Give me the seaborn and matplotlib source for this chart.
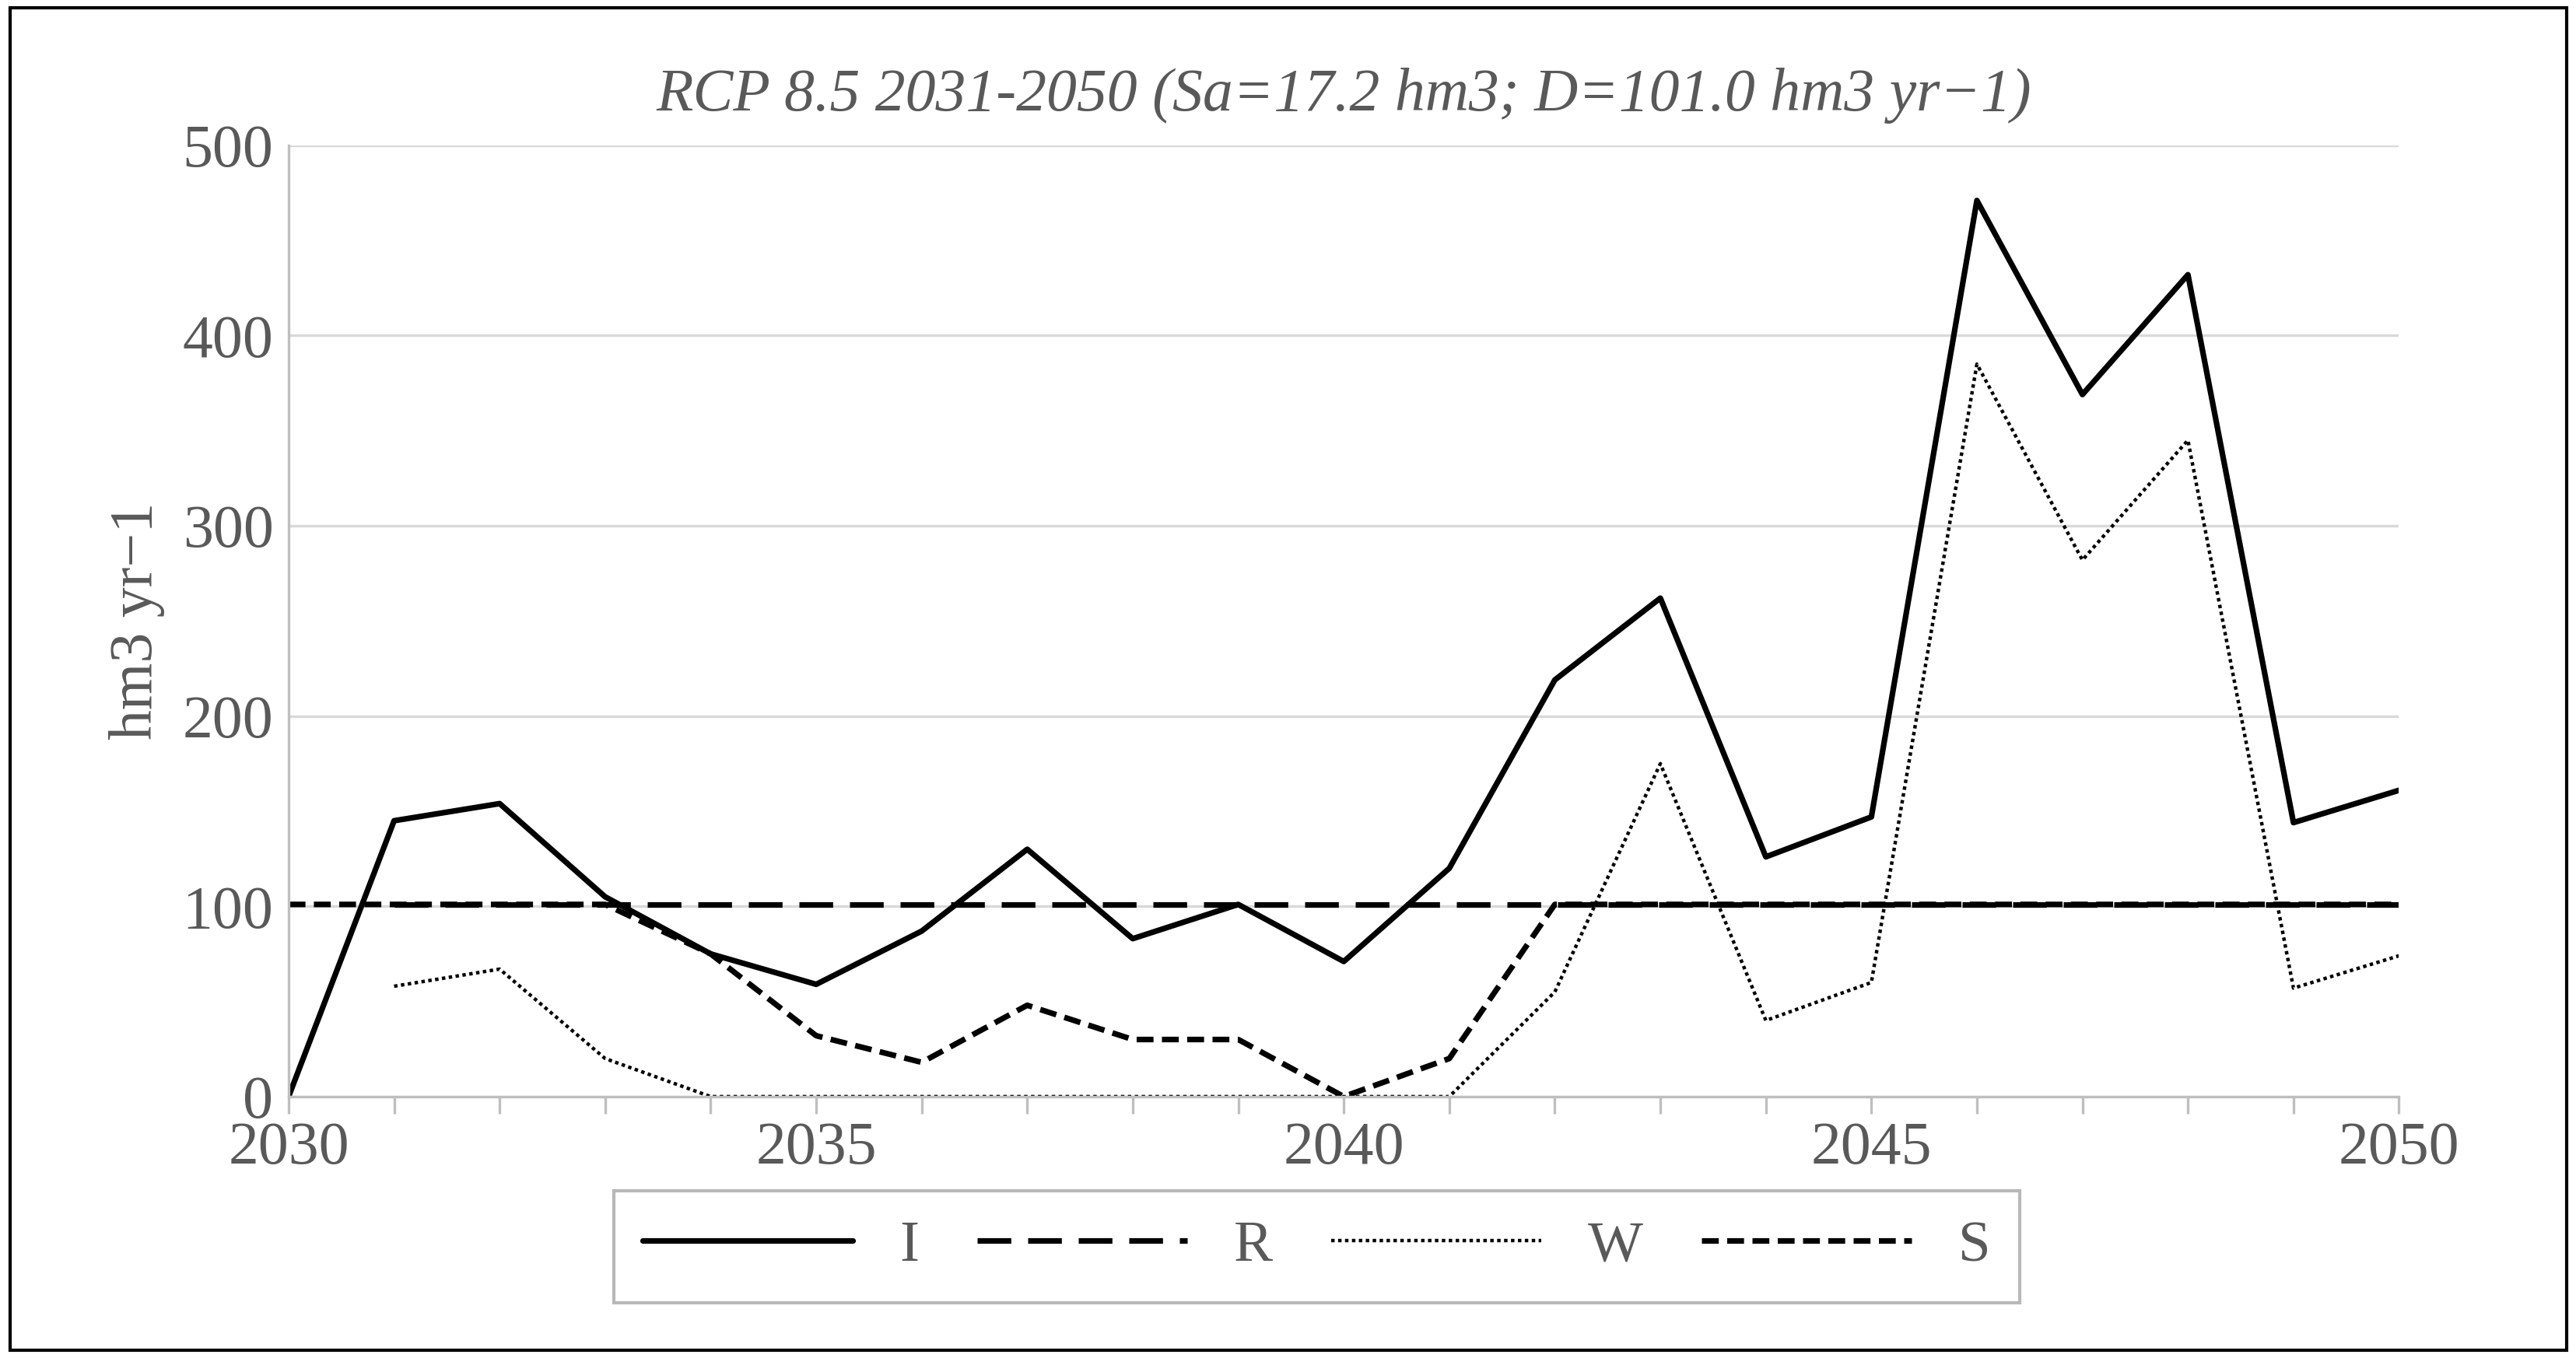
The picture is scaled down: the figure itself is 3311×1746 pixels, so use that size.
import numpy as np
import pandas as pd
import matplotlib
matplotlib.use("Agg")
import matplotlib.pyplot as plt
import seaborn as sns

years = list(range(2030, 2051))
I = [0, 145, 154, 105, 75, 59, 87, 130, 83, 101, 71, 120, 219, 262, 126, 147, 471, 369, 432, 144, 161]
R = [np.nan] + [101] * 20
W = [np.nan, 58, 67, 20, 0, 0, 0, 0, 0, 0, 0, 0, 55, 175, 40, 60, 385, 282, 345, 57, 74]
S = [101, 101, 101, 101, 75, 32, 18, 48, 30, 30, 0, 20, 101, 101, 101, 101, 101, 101, 101, 101, 101]

sns.set_style("white")
plt.rcParams['font.family'] = ['Liberation Serif', 'DejaVu Serif']
GREY = "#595959"

df = pd.DataFrame({"year": years, "I": I, "R": R, "W": W, "S": S})

fig = plt.figure(figsize=(16.56, 8.73), dpi=200)
ax = fig.add_axes([0.112, 0.1925, 0.819, 0.7005])

styles = {"I": dict(ls="-", lw=2.6),
          "R": dict(ls=(0, (6, 3)), lw=2.6),
          "W": dict(ls=(0, (1, 1)), lw=1.6),
          "S": dict(ls=(0, (3, 1.5)), lw=2.6)}
for name in ["I", "R", "W", "S"]:
    sns.lineplot(data=df, x="year", y=name, ax=ax, color="black", label=name, **styles[name])

ax.set_xlim(2030, 2050)
ax.set_ylim(0, 500)
ax.set_xticks([2030, 2035, 2040, 2045, 2050])
ax.set_xticks(years, minor=True)
ax.set_yticks([0, 100, 200, 300, 400, 500])
ax.grid(axis="y", color="#d9d9d9", lw=1.2)
ax.set_axisbelow(True)
for s in ["top", "right"]:
    ax.spines[s].set_visible(False)
for s in ["left", "bottom"]:
    ax.spines[s].set_color("#bfbfbf")
    ax.spines[s].set_linewidth(1.2)
ax.tick_params(axis="x", which="both", bottom=True, length=8, color="#bfbfbf", width=1.2)
ax.tick_params(labelsize=28, labelcolor=GREY)
ax.set_xlabel("")
ax.set_ylabel("hm3 yr\u22121", fontsize=28, color=GREY, labelpad=8)
ax.set_title("RCP 8.5 2031-2050 (Sa=17.2 hm3; D=101.0 hm3 yr\u22121)", fontsize=28,
             style="italic", color=GREY, pad=16)

leg = ax.legend(loc="center", bbox_to_anchor=(0.511, 0.082), bbox_transform=fig.transFigure,
                ncol=4, fontsize=27, frameon=True, fancybox=False, handlelength=3.6,
                columnspacing=1.0, handletextpad=0.8, borderpad=0.5)
leg.get_frame().set_edgecolor("#a6a6a6")
leg.get_frame().set_linewidth(1.5)
for t in leg.get_texts():
    t.set_color(GREY)

fig.patches.append(plt.Rectangle((0.004, 0.006), 0.992, 0.988, transform=fig.transFigure,
                                 fill=False, edgecolor="black", lw=1.5))
fig.savefig("out.png", dpi=200)
